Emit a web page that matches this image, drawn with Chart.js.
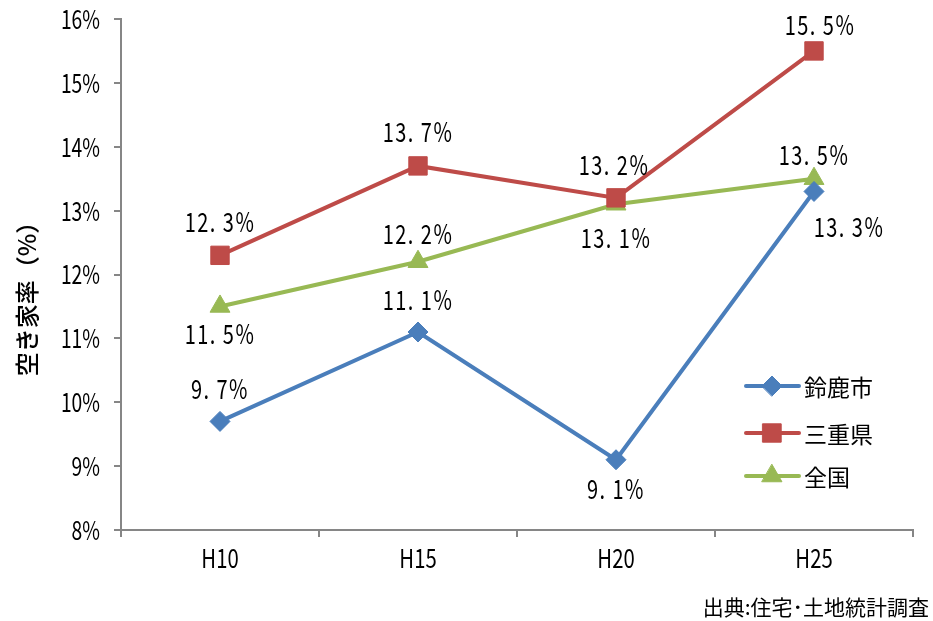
<!DOCTYPE html>
<html>
<head>
<meta charset="utf-8">
<script src="https://cdn.jsdelivr.net/npm/chart.js@4"></script>
<style>
  html, body { margin: 0; padding: 0; background: #fff; }
  #wrap { width: 933px; height: 621px; position: relative; }
</style>
</head>
<body>
<div id="wrap"><canvas id="lineChart"></canvas></div>
<script>
// Data
const categories = ['H10', 'H15', 'H20', 'H25'];
const suzuka = [9.7, 11.1, 9.1, 13.3];
const mie = [12.3, 13.7, 13.2, 15.5];
const national = [11.5, 12.2, 13.1, 13.5];
const seriesNames = ['鈴鹿市', '三重県', '全国'];
const yTicks = [8, 9, 10, 11, 12, 13, 14, 15, 16];
const yAxisTitle = '空き家率（%）';
const sourceNote = '出典:住宅･土地統計調査';

const COLORS = {
    suzuka: '#4A7EBB',
    mie: '#BE4B48',
    national: '#98B954'
};
const AXIS_GRAY = '#868686';
const JP = '"Noto Sans CJK JP", sans-serif';

// where each value label sits relative to its point: [dx, dy]
const labelOffsets = [
    [[0, -33], [0, -32], [0, 29], [35, 35]],
    [[0, -34], [0, -34], [-2, -33], [6, -26]],
    [[0, 27], [0, -28], [0, 33], [0, -24]]
];

// draws horizontally squeezed text (the reference uses a tall condensed face)
function drawNarrow(ctx, text, x, y, size, align, sx, spacing) {
    ctx.save();
    ctx.translate(x, y);
    ctx.scale(sx, 1);
    ctx.font = size + 'px ' + JP;
    ctx.textAlign = align;
    ctx.textBaseline = 'middle';
    ctx.fillStyle = '#000';
    if ('letterSpacing' in ctx) ctx.letterSpacing = (spacing || 0) + 'px';
    ctx.fillText(text, 0, 0);
    ctx.restore();
}

// Plugin: tick texts, value labels, custom legend, y title and source note
const annotate = {
    id: 'annotate',
    afterDatasetsDraw(chart) {
        const { ctx, scales } = chart;
        ctx.save();

        // y tick labels
        yTicks.forEach((v) => {
            drawNarrow(ctx, v + '%', 100, scales.y.getPixelForValue(v), 26, 'right', 0.74, 0);
        });
        // x tick labels
        categories.forEach((c, i) => {
            drawNarrow(ctx, c, scales.x.getPixelForValue(i), 558, 26, 'center', 0.78, 0);
        });

        // value labels
        chart.data.datasets.forEach((ds, di) => {
            chart.getDatasetMeta(di).data.forEach((pt, i) => {
                const [dx, dy] = labelOffsets[di][i];
                const txt = ds.data[i].toFixed(1).replace('.', '. ') + '%';
                drawNarrow(ctx, txt, pt.x + dx, pt.y + dy, 27, 'center', 0.74, 2);
            });
        });

        // legend
        const legendY = [386, 433, 476];
        chart.data.datasets.forEach((ds, di) => {
            const y = legendY[di];
            ctx.strokeStyle = ds.borderColor;
            ctx.fillStyle = ds.backgroundColor;
            ctx.lineWidth = 4;
            ctx.lineCap = 'round';
            ctx.beginPath();
            ctx.moveTo(746, y);
            ctx.lineTo(799, y);
            ctx.stroke();
            ctx.lineWidth = 1;
            Chart.helpers.drawPoint(ctx, {
                pointStyle: ds.pointStyle,
                radius: ds.pointRadius,
                rotation: 0,
                borderWidth: 1
            }, 772, y);
            ctx.fillStyle = '#000';
            ctx.font = '23px ' + JP;
            ctx.textAlign = 'left';
            ctx.textBaseline = 'middle';
            ctx.fillText(ds.label, 804, y + 1);
        });

        // y axis title, rotated
        ctx.save();
        ctx.translate(27, 293);
        ctx.rotate(-Math.PI / 2);
        ctx.font = '500 24px ' + JP;
        ctx.textAlign = 'center';
        ctx.textBaseline = 'middle';
        ctx.fillStyle = '#000';
        ctx.fillText(yAxisTitle, 0, 0);
        ctx.restore();

        // source note
        ctx.font = '21px ' + JP;
        ctx.textAlign = 'right';
        ctx.textBaseline = 'middle';
        ctx.fillStyle = '#000';
        ctx.fillText(sourceNote, 929, 607);

        ctx.restore();
    }
};

function makeSet(label, data, color, style, radius) {
    return {
        label: label,
        data: data,
        borderColor: color,
        backgroundColor: color,
        pointBackgroundColor: color,
        pointBorderColor: color,
        borderWidth: 4,
        pointStyle: style,
        pointRadius: radius,
        pointHoverRadius: radius,
        pointBorderWidth: 1,
        tension: 0,
        fill: false
    };
}

new Chart(document.getElementById('lineChart'), {
    type: 'line',
    data: {
        labels: categories,
        datasets: [
            makeSet(seriesNames[0], suzuka, COLORS.suzuka, 'rectRot', 10),
            makeSet(seriesNames[1], mie, COLORS.mie, 'rect', 13),
            makeSet(seriesNames[2], national, COLORS.national, 'triangle', 11.5)
        ]
    },
    options: {
        responsive: true,
        maintainAspectRatio: false,
        animation: false,
        devicePixelRatio: 1,
        layout: { padding: { top: 19, right: 20, left: 0, bottom: 0 } },
        plugins: {
            legend: { display: false },
            tooltip: { enabled: false }
        },
        scales: {
            x: {
                offset: true,
                grid: {
                    display: true,
                    offset: true,
                    drawOnChartArea: false,
                    drawTicks: true,
                    tickLength: 7,
                    color: AXIS_GRAY,
                    lineWidth: 2
                },
                border: { color: AXIS_GRAY, width: 2 },
                ticks: { display: false },
                afterFit: (scale) => { scale.height = 91; }
            },
            y: {
                min: 8,
                max: 16,
                grid: {
                    display: true,
                    drawOnChartArea: false,
                    drawTicks: true,
                    tickLength: 7,
                    color: AXIS_GRAY,
                    lineWidth: 2
                },
                border: { color: AXIS_GRAY, width: 2 },
                ticks: { display: false, stepSize: 1 },
                afterFit: (scale) => { scale.width = 121; }
            }
        }
    },
    plugins: [annotate]
});
</script>
</body>
</html>
